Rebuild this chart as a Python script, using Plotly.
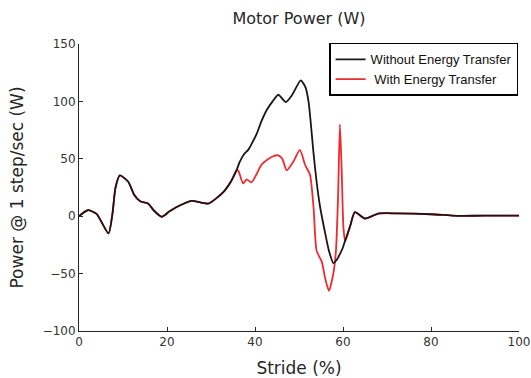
import plotly.graph_objects as go

# Without Energy Transfer (black)
x_without = [0, 2, 4, 6.7, 7.6, 8.3, 9.3, 11.2, 12.5, 13.9, 15.7, 17, 18.8, 20.5, 22.2,
             25.6, 29.4, 32.8, 34.5, 35.8, 36.5, 37.5, 38.5, 39.5, 40.4, 41.5, 42.7, 44,
             45.3, 47, 48.5, 50.4, 51.5, 52.2, 53.3, 54, 54.8, 55.8, 56.8, 57.8, 58.6,
             59.3, 60, 60.5, 61.6, 62.7, 65, 68, 72, 80, 86, 92, 100]
y_without = [0, 5.2, 2, -15, 2, 25, 35.5, 30, 19, 13, 11, 5, -0.5, 4, 8,
             13.4, 11, 21, 30, 40, 47, 54, 58, 65, 72, 83, 92.7, 100,
             105.8, 99.4, 106, 118.3, 112, 99, 55, 30, 8, -12, -30, -40.8, -38,
             -33, -27, -21, -9, 3.5, -2, 2.3, 2.5, 1.7, 0.3, 0.5, 0.5]

# With Energy Transfer (red)
x_with = [0, 2, 4, 6.7, 7.6, 8.3, 9.3, 11.2, 12.5, 13.9, 15.7, 17, 18.8, 20.5, 22.2,
          25.6, 29.4, 32.8, 34.5, 35.8, 36.2, 37.3, 38.1, 39.2, 40.4, 41.5, 42.7, 44,
          45.3, 46.2, 47.2, 48.7, 50.2, 51.4, 52.5, 53.3, 54, 55.2, 56, 56.8, 57.8,
          58.4, 58.9, 59.3, 59.7, 60.1, 60.5, 61.6, 62.7, 65, 68, 72, 80, 86, 92, 100]
y_with = [0, 5.2, 2, -15, 2, 25, 35.5, 30, 19, 13, 11, 5, -0.5, 4, 8,
          13.4, 11, 21, 30, 40, 39.6, 28.5, 32, 29.5, 37, 45, 49, 52,
          53, 50, 40, 47.5, 57.7, 44.6, 36, 8, -30, -40, -55, -65, -50,
          -30, 20, 80, 40, -10, -22, -9, 3.5, -2, 2.3, 2.5, 1.7, 0.3, 0.5, 0.5]

x_ticks = [0, 20, 40, 60, 80, 100]
y_ticks = [-100, -50, 0, 50, 100, 150]

fig = go.Figure()
fig.add_trace(go.Scatter(x=x_with, y=y_with, mode="lines", name=" With Energy Transfer",
                         line=dict(color="#ee2a2f", width=1.8, shape="spline", smoothing=0.6)))
fig.add_trace(go.Scatter(x=x_without, y=y_without, mode="lines", name="Without Energy Transfer",
                         line=dict(color="#1c1416", width=1.8, shape="spline", smoothing=0.6)))

axis_font = dict(family="DejaVu Sans", size=12, color="#333333")
fig.update_layout(
    width=531, height=378,
    margin=dict(l=79, r=12, t=44, b=47),
    paper_bgcolor="white", plot_bgcolor="white",
    title=dict(text="Motor Power (W)", x=(79 + 220) / 531, xanchor="center",
               y=1 - 18 / 378, yanchor="middle",
               font=dict(family="DejaVu Sans", size=16, color="#262626")),
    showlegend=True,
    legend=dict(x=0.998, y=1.004, xanchor="right", yanchor="top",
                traceorder="reversed", bgcolor="white",
                bordercolor="black", borderwidth=1.5,
                font=dict(family="Liberation Sans", size=13, color="#111111"),
                itemwidth=30, tracegroupgap=2),
    xaxis=dict(range=[0, 100], tickvals=x_ticks, ticks="inside", ticklen=4,
               tickcolor="#262626", showline=True, linecolor="#262626", linewidth=1,
               showgrid=False, zeroline=False, tickfont=axis_font, automargin=False,
               title=dict(text="Stride (%)", font=dict(family="DejaVu Sans", size=17, color="#262626"),
                          standoff=15)),
    yaxis=dict(range=[-100, 150], tickvals=y_ticks, ticks="inside", ticklen=4,
               tickcolor="#262626", showline=True, linecolor="#262626", linewidth=1,
               showgrid=False, zeroline=False, tickfont=axis_font, automargin=False,
               title=dict(text="Power @ 1 step/sec (W)",
                          font=dict(family="DejaVu Sans", size=17, color="#262626"),
                          standoff=14)),
)

fig.write_html("out.html")
